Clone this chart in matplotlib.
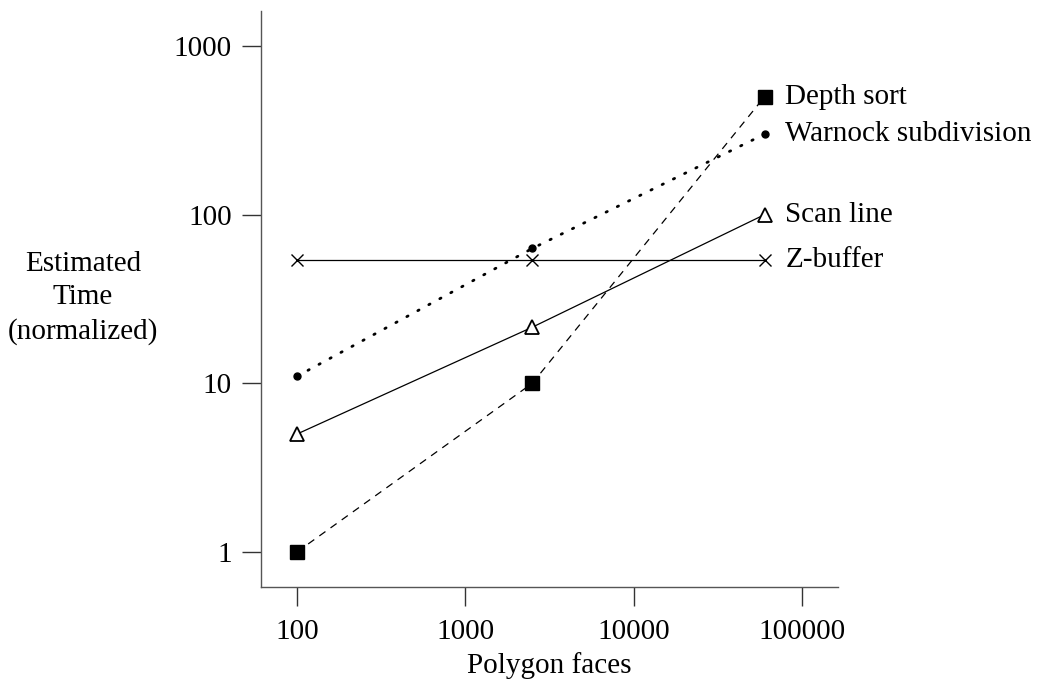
import numpy as np
import matplotlib
matplotlib.use("Agg")
import matplotlib.pyplot as plt

plt.rcParams['font.family'] = ['Liberation Serif', 'DejaVu Serif']

# data (log-log)
faces = [100, 2500, 60000]
depth_sort = [1, 10, 500]
warnock = [11, 63, 300]
scan_line = [5, 21.5, 100]
z_buffer = [54, 54, 54]

x_ticks = [100, 1000, 10000, 100000]
y_ticks = [1, 10, 100, 1000]

fig = plt.figure(figsize=(10.41, 6.8), dpi=100)
ax = fig.add_axes([0.2507, 0.1368, 0.805 - 0.2507, 0.984 - 0.1368])

ax.plot(faces, depth_sort, color='black', lw=0.9, ls=(0, (6, 5)),
        marker='s', ms=10, mfc='black', mec='black')
ax.plot(faces, warnock, color='black', lw=2, ls=(0, (0.5, 4)),
        dash_capstyle='round', marker='o', ms=5, mfc='black', mec='black')
ax.plot(faces, scan_line, color='black', lw=0.9, ls='-',
        marker='^', ms=10, mfc='white', mec='black', mew=1.3)
ax.plot(faces, z_buffer, color='black', lw=0.9, ls='-',
        marker='x', ms=9, mec='black', mew=1)

labels = ['Depth sort', 'Warnock subdivision', 'Scan line', 'Z-buffer']
for lab, ys in zip(labels, [depth_sort, warnock, scan_line, z_buffer]):
    ax.annotate(lab, (faces[-1], ys[-1]), xytext=(15, 0),
                textcoords='offset points', va='center', ha='left',
                fontsize=21, annotation_clip=False)

ax.set_xscale('log')
ax.set_yscale('log')
ax.set_xlim(61.1, 163700)
ax.set_ylim(0.62, 1613)
ax.set_xticks(x_ticks)
ax.set_xticklabels([str(v) for v in x_ticks])
ax.set_yticks(y_ticks)
ax.set_yticklabels([str(v) for v in y_ticks])
ax.minorticks_off()
ax.tick_params(axis='both', direction='out', length=14, width=1,
               labelsize=21, pad=7, color='#333333')
ax.tick_params(axis='x', pad=9)

for side in ['top', 'right']:
    ax.spines[side].set_visible(False)
for side in ['left', 'bottom']:
    ax.spines[side].set_linewidth(1)
    ax.spines[side].set_color('#555555')

ax.set_xlabel('Polygon faces', fontsize=21, labelpad=5)
fig.text(83 / 1041, 1 - 298 / 680, 'Estimated\nTime\n(normalized)',
         ha='center', va='center', fontsize=21, linespacing=1.37)

fig.savefig('out.png', dpi=100)
